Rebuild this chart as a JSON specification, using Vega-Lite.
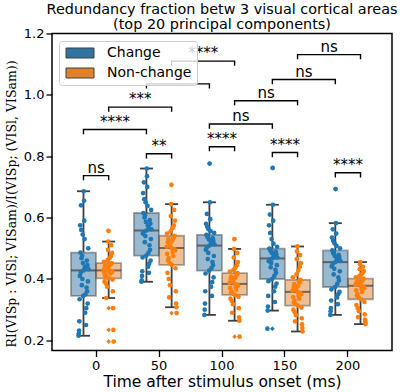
{
"$schema": "https://vega.github.io/schema/vega-lite/v6.json",
"autosize": {"type": "none"},
"padding": {"left": 52, "top": 33.5, "right": 15, "bottom": 41.5},
"width": 340,
"height": 317,
"title": {"text": ["Redundancy fraction betw 3 visual cortical areas", "(top 20 principal components)"], "font": "DejaVu Sans", "fontSize": 14.4, "fontWeight": "normal", "color": "black", "anchor": "middle", "offset": -4.5, "lineHeight": 14.5},
"config": {
  "view": {"stroke": "black", "strokeWidth": 1.5},
  "font": "DejaVu Sans",
  "axis": {"labelFont": "DejaVu Sans", "labelFontSize": 13, "labelColor": "black", "tickColor": "black", "tickSize": 6, "tickWidth": 1.3, "domain": false, "grid": false, "titleColor": "black", "titleFontWeight": "normal"}
},
"datasets": {
"pts": [
{"t":0,"g":"Change","v":0.215},{"t":0,"g":"Change","v":0.222},{"t":0,"g":"Change","v":0.232},{"t":0,"g":"Change","v":0.262},{"t":0,"g":"Change","v":0.334},{"t":0,"g":"Change","v":0.41},{"t":0,"g":"Change","v":0.575},{"t":0,"g":"Change","v":0.486},{"t":0,"g":"Change","v":0.42},{"t":0,"g":"Change","v":0.64},{"t":0,"g":"Change","v":0.56},{"t":0,"g":"Change","v":0.468},{"t":0,"g":"Change","v":0.38},{"t":0,"g":"Change","v":0.476},{"t":0,"g":"Change","v":0.40},{"t":0,"g":"Change","v":0.545},{"t":0,"g":"Change","v":0.452},{"t":0,"g":"Change","v":0.345},{"t":0,"g":"Change","v":0.428},{"t":0,"g":"Change","v":0.686},{"t":0,"g":"Change","v":0.655},{"t":0,"g":"Change","v":0.59},{"t":0,"g":"Change","v":0.53},{"t":0,"g":"Change","v":0.44},{"t":0,"g":"Change","v":0.29},{"t":0,"g":"Change","v":0.35},{"t":0,"g":"Change","v":0.436},{"t":0,"g":"Change","v":0.25},{"t":0,"g":"Change","v":0.305},{"t":0,"g":"Change","v":0.372},{"t":0,"g":"Change","v":0.46},{"t":0,"g":"Change","v":0.36},{"t":0,"g":"Change","v":0.445},{"t":0,"g":"Change","v":0.32},{"t":0,"g":"Change","v":0.392},{"t":0,"g":"Change","v":0.50},{"t":0,"g":"Change","v":0.432},
{"t":0,"g":"Non-change","v":0.43},{"t":0,"g":"Non-change","v":0.456},{"t":0,"g":"Non-change","v":0.42},{"t":0,"g":"Non-change","v":0.392},{"t":0,"g":"Non-change","v":0.44},{"t":0,"g":"Non-change","v":0.41},{"t":0,"g":"Non-change","v":0.446},{"t":0,"g":"Non-change","v":0.414},{"t":0,"g":"Non-change","v":0.385},{"t":0,"g":"Non-change","v":0.338},{"t":0,"g":"Non-change","v":0.433},{"t":0,"g":"Non-change","v":0.405},{"t":0,"g":"Non-change","v":0.375},{"t":0,"g":"Non-change","v":0.436},{"t":0,"g":"Non-change","v":0.462},{"t":0,"g":"Non-change","v":0.495},{"t":0,"g":"Non-change","v":0.522},{"t":0,"g":"Non-change","v":0.557},{"t":0,"g":"Non-change","v":0.428},{"t":0,"g":"Non-change","v":0.402},{"t":0,"g":"Non-change","v":0.443},{"t":0,"g":"Non-change","v":0.468},{"t":0,"g":"Non-change","v":0.422},{"t":0,"g":"Non-change","v":0.45},{"t":0,"g":"Non-change","v":0.418},{"t":0,"g":"Non-change","v":0.448},{"t":0,"g":"Non-change","v":0.475},{"t":0,"g":"Non-change","v":0.51},{"t":0,"g":"Non-change","v":0.426},{"t":0,"g":"Non-change","v":0.452},{"t":0,"g":"Non-change","v":0.485},{"t":0,"g":"Non-change","v":0.424},{"t":0,"g":"Non-change","v":0.398},{"t":0,"g":"Non-change","v":0.36},{"t":0,"g":"Non-change","v":0.305},{"t":0,"g":"Non-change","v":0.234},{"t":0,"g":"Non-change","v":0.196},
{"t":50,"g":"Change","v":0.391},{"t":50,"g":"Change","v":0.396},{"t":50,"g":"Change","v":0.41},{"t":50,"g":"Change","v":0.425},{"t":50,"g":"Change","v":0.47},{"t":50,"g":"Change","v":0.548},{"t":50,"g":"Change","v":0.68},{"t":50,"g":"Change","v":0.615},{"t":50,"g":"Change","v":0.553},{"t":50,"g":"Change","v":0.715},{"t":50,"g":"Change","v":0.66},{"t":50,"g":"Change","v":0.60},{"t":50,"g":"Change","v":0.52},{"t":50,"g":"Change","v":0.608},{"t":50,"g":"Change","v":0.54},{"t":50,"g":"Change","v":0.65},{"t":50,"g":"Change","v":0.586},{"t":50,"g":"Change","v":0.476},{"t":50,"g":"Change","v":0.558},{"t":50,"g":"Change","v":0.76},{"t":50,"g":"Change","v":0.735},{"t":50,"g":"Change","v":0.70},{"t":50,"g":"Change","v":0.638},{"t":50,"g":"Change","v":0.575},{"t":50,"g":"Change","v":0.44},{"t":50,"g":"Change","v":0.485},{"t":50,"g":"Change","v":0.568},{"t":50,"g":"Change","v":0.42},{"t":50,"g":"Change","v":0.45},{"t":50,"g":"Change","v":0.51},{"t":50,"g":"Change","v":0.592},{"t":50,"g":"Change","v":0.495},{"t":50,"g":"Change","v":0.58},{"t":50,"g":"Change","v":0.46},{"t":50,"g":"Change","v":0.53},{"t":50,"g":"Change","v":0.625},{"t":50,"g":"Change","v":0.562},
{"t":50,"g":"Non-change","v":0.505},{"t":50,"g":"Non-change","v":0.548},{"t":50,"g":"Non-change","v":0.482},{"t":50,"g":"Non-change","v":0.42},{"t":50,"g":"Non-change","v":0.52},{"t":50,"g":"Non-change","v":0.46},{"t":50,"g":"Non-change","v":0.53},{"t":50,"g":"Non-change","v":0.468},{"t":50,"g":"Non-change","v":0.40},{"t":50,"g":"Non-change","v":0.34},{"t":50,"g":"Non-change","v":0.51},{"t":50,"g":"Non-change","v":0.452},{"t":50,"g":"Non-change","v":0.38},{"t":50,"g":"Non-change","v":0.515},{"t":50,"g":"Non-change","v":0.555},{"t":50,"g":"Non-change","v":0.605},{"t":50,"g":"Non-change","v":0.644},{"t":50,"g":"Non-change","v":0.707},{"t":50,"g":"Non-change","v":0.501},{"t":50,"g":"Non-change","v":0.446},{"t":50,"g":"Non-change","v":0.525},{"t":50,"g":"Non-change","v":0.565},{"t":50,"g":"Non-change","v":0.488},{"t":50,"g":"Non-change","v":0.538},{"t":50,"g":"Non-change","v":0.475},{"t":50,"g":"Non-change","v":0.534},{"t":50,"g":"Non-change","v":0.575},{"t":50,"g":"Non-change","v":0.625},{"t":50,"g":"Non-change","v":0.497},{"t":50,"g":"Non-change","v":0.541},{"t":50,"g":"Non-change","v":0.59},{"t":50,"g":"Non-change","v":0.493},{"t":50,"g":"Non-change","v":0.435},{"t":50,"g":"Non-change","v":0.36},{"t":50,"g":"Non-change","v":0.32},{"t":50,"g":"Non-change","v":0.308},{"t":50,"g":"Non-change","v":0.289},
{"t":100,"g":"Change","v":0.283},{"t":100,"g":"Change","v":0.30},{"t":100,"g":"Change","v":0.32},{"t":100,"g":"Change","v":0.36},{"t":100,"g":"Change","v":0.418},{"t":100,"g":"Change","v":0.495},{"t":100,"g":"Change","v":0.58},{"t":100,"g":"Change","v":0.544},{"t":100,"g":"Change","v":0.502},{"t":100,"g":"Change","v":0.612},{"t":100,"g":"Change","v":0.57},{"t":100,"g":"Change","v":0.537},{"t":100,"g":"Change","v":0.465},{"t":100,"g":"Change","v":0.54},{"t":100,"g":"Change","v":0.485},{"t":100,"g":"Change","v":0.562},{"t":100,"g":"Change","v":0.529},{"t":100,"g":"Change","v":0.427},{"t":100,"g":"Change","v":0.509},{"t":100,"g":"Change","v":0.776},{"t":100,"g":"Change","v":0.65},{"t":100,"g":"Change","v":0.595},{"t":100,"g":"Change","v":0.556},{"t":100,"g":"Change","v":0.521},{"t":100,"g":"Change","v":0.375},{"t":100,"g":"Change","v":0.435},{"t":100,"g":"Change","v":0.517},{"t":100,"g":"Change","v":0.345},{"t":100,"g":"Change","v":0.39},{"t":100,"g":"Change","v":0.455},{"t":100,"g":"Change","v":0.533},{"t":100,"g":"Change","v":0.445},{"t":100,"g":"Change","v":0.525},{"t":100,"g":"Change","v":0.405},{"t":100,"g":"Change","v":0.475},{"t":100,"g":"Change","v":0.55},{"t":100,"g":"Change","v":0.513},
{"t":100,"g":"Non-change","v":0.388},{"t":100,"g":"Non-change","v":0.424},{"t":100,"g":"Non-change","v":0.37},{"t":100,"g":"Non-change","v":0.336},{"t":100,"g":"Non-change","v":0.40},{"t":100,"g":"Non-change","v":0.356},{"t":100,"g":"Non-change","v":0.408},{"t":100,"g":"Non-change","v":0.36},{"t":100,"g":"Non-change","v":0.328},{"t":100,"g":"Non-change","v":0.29},{"t":100,"g":"Non-change","v":0.392},{"t":100,"g":"Non-change","v":0.352},{"t":100,"g":"Non-change","v":0.318},{"t":100,"g":"Non-change","v":0.396},{"t":100,"g":"Non-change","v":0.43},{"t":100,"g":"Non-change","v":0.47},{"t":100,"g":"Non-change","v":0.498},{"t":100,"g":"Non-change","v":0.53},{"t":100,"g":"Non-change","v":0.384},{"t":100,"g":"Non-change","v":0.348},{"t":100,"g":"Non-change","v":0.404},{"t":100,"g":"Non-change","v":0.437},{"t":100,"g":"Non-change","v":0.374},{"t":100,"g":"Non-change","v":0.416},{"t":100,"g":"Non-change","v":0.365},{"t":100,"g":"Non-change","v":0.412},{"t":100,"g":"Non-change","v":0.445},{"t":100,"g":"Non-change","v":0.485},{"t":100,"g":"Non-change","v":0.381},{"t":100,"g":"Non-change","v":0.419},{"t":100,"g":"Non-change","v":0.455},{"t":100,"g":"Non-change","v":0.378},{"t":100,"g":"Non-change","v":0.342},{"t":100,"g":"Non-change","v":0.305},{"t":100,"g":"Non-change","v":0.275},{"t":100,"g":"Non-change","v":0.264},{"t":100,"g":"Non-change","v":0.212},
{"t":150,"g":"Change","v":0.238},{"t":150,"g":"Change","v":0.297},{"t":150,"g":"Change","v":0.31},{"t":150,"g":"Change","v":0.345},{"t":150,"g":"Change","v":0.393},{"t":150,"g":"Change","v":0.458},{"t":150,"g":"Change","v":0.575},{"t":150,"g":"Change","v":0.499},{"t":150,"g":"Change","v":0.463},{"t":150,"g":"Change","v":0.61},{"t":150,"g":"Change","v":0.55},{"t":150,"g":"Change","v":0.492},{"t":150,"g":"Change","v":0.438},{"t":150,"g":"Change","v":0.496},{"t":150,"g":"Change","v":0.452},{"t":150,"g":"Change","v":0.53},{"t":150,"g":"Change","v":0.485},{"t":150,"g":"Change","v":0.40},{"t":150,"g":"Change","v":0.467},{"t":150,"g":"Change","v":0.762},{"t":150,"g":"Change","v":0.642},{"t":150,"g":"Change","v":0.59},{"t":150,"g":"Change","v":0.515},{"t":150,"g":"Change","v":0.477},{"t":150,"g":"Change","v":0.36},{"t":150,"g":"Change","v":0.41},{"t":150,"g":"Change","v":0.474},{"t":150,"g":"Change","v":0.325},{"t":150,"g":"Change","v":0.375},{"t":150,"g":"Change","v":0.43},{"t":150,"g":"Change","v":0.489},{"t":150,"g":"Change","v":0.42},{"t":150,"g":"Change","v":0.481},{"t":150,"g":"Change","v":0.385},{"t":150,"g":"Change","v":0.445},{"t":150,"g":"Change","v":0.505},{"t":150,"g":"Change","v":0.47},
{"t":150,"g":"Non-change","v":0.362},{"t":150,"g":"Non-change","v":0.405},{"t":150,"g":"Non-change","v":0.341},{"t":150,"g":"Non-change","v":0.30},{"t":150,"g":"Non-change","v":0.374},{"t":150,"g":"Non-change","v":0.324},{"t":150,"g":"Non-change","v":0.383},{"t":150,"g":"Non-change","v":0.33},{"t":150,"g":"Non-change","v":0.292},{"t":150,"g":"Non-change","v":0.262},{"t":150,"g":"Non-change","v":0.366},{"t":150,"g":"Non-change","v":0.318},{"t":150,"g":"Non-change","v":0.282},{"t":150,"g":"Non-change","v":0.37},{"t":150,"g":"Non-change","v":0.415},{"t":150,"g":"Non-change","v":0.465},{"t":150,"g":"Non-change","v":0.49},{"t":150,"g":"Non-change","v":0.506},{"t":150,"g":"Non-change","v":0.358},{"t":150,"g":"Non-change","v":0.313},{"t":150,"g":"Non-change","v":0.378},{"t":150,"g":"Non-change","v":0.428},{"t":150,"g":"Non-change","v":0.346},{"t":150,"g":"Non-change","v":0.393},{"t":150,"g":"Non-change","v":0.336},{"t":150,"g":"Non-change","v":0.388},{"t":150,"g":"Non-change","v":0.44},{"t":150,"g":"Non-change","v":0.478},{"t":150,"g":"Non-change","v":0.354},{"t":150,"g":"Non-change","v":0.397},{"t":150,"g":"Non-change","v":0.452},{"t":150,"g":"Non-change","v":0.35},{"t":150,"g":"Non-change","v":0.307},{"t":150,"g":"Non-change","v":0.272},{"t":150,"g":"Non-change","v":0.252},{"t":150,"g":"Non-change","v":0.24},{"t":150,"g":"Non-change","v":0.229},
{"t":200,"g":"Change","v":0.283},{"t":200,"g":"Change","v":0.295},{"t":200,"g":"Change","v":0.305},{"t":200,"g":"Change","v":0.33},{"t":200,"g":"Change","v":0.366},{"t":200,"g":"Change","v":0.441},{"t":200,"g":"Change","v":0.535},{"t":200,"g":"Change","v":0.493},{"t":200,"g":"Change","v":0.448},{"t":200,"g":"Change","v":0.562},{"t":200,"g":"Change","v":0.525},{"t":200,"g":"Change","v":0.483},{"t":200,"g":"Change","v":0.415},{"t":200,"g":"Change","v":0.488},{"t":200,"g":"Change","v":0.433},{"t":200,"g":"Change","v":0.516},{"t":200,"g":"Change","v":0.475},{"t":200,"g":"Change","v":0.374},{"t":200,"g":"Change","v":0.455},{"t":200,"g":"Change","v":0.693},{"t":200,"g":"Change","v":0.582},{"t":200,"g":"Change","v":0.548},{"t":200,"g":"Change","v":0.508},{"t":200,"g":"Change","v":0.467},{"t":200,"g":"Change","v":0.34},{"t":200,"g":"Change","v":0.384},{"t":200,"g":"Change","v":0.463},{"t":200,"g":"Change","v":0.318},{"t":200,"g":"Change","v":0.35},{"t":200,"g":"Change","v":0.405},{"t":200,"g":"Change","v":0.479},{"t":200,"g":"Change","v":0.395},{"t":200,"g":"Change","v":0.471},{"t":200,"g":"Change","v":0.358},{"t":200,"g":"Change","v":0.425},{"t":200,"g":"Change","v":0.50},{"t":200,"g":"Change","v":0.459},
{"t":200,"g":"Non-change","v":0.381},{"t":200,"g":"Non-change","v":0.405},{"t":200,"g":"Non-change","v":0.363},{"t":200,"g":"Non-change","v":0.315},{"t":200,"g":"Non-change","v":0.389},{"t":200,"g":"Non-change","v":0.346},{"t":200,"g":"Non-change","v":0.393},{"t":200,"g":"Non-change","v":0.352},{"t":200,"g":"Non-change","v":0.305},{"t":200,"g":"Non-change","v":0.276},{"t":200,"g":"Non-change","v":0.384},{"t":200,"g":"Non-change","v":0.34},{"t":200,"g":"Non-change","v":0.295},{"t":200,"g":"Non-change","v":0.387},{"t":200,"g":"Non-change","v":0.41},{"t":200,"g":"Non-change","v":0.432},{"t":200,"g":"Non-change","v":0.448},{"t":200,"g":"Non-change","v":0.455},{"t":200,"g":"Non-change","v":0.378},{"t":200,"g":"Non-change","v":0.334},{"t":200,"g":"Non-change","v":0.391},{"t":200,"g":"Non-change","v":0.415},{"t":200,"g":"Non-change","v":0.367},{"t":200,"g":"Non-change","v":0.398},{"t":200,"g":"Non-change","v":0.358},{"t":200,"g":"Non-change","v":0.395},{"t":200,"g":"Non-change","v":0.42},{"t":200,"g":"Non-change","v":0.44},{"t":200,"g":"Non-change","v":0.375},{"t":200,"g":"Non-change","v":0.401},{"t":200,"g":"Non-change","v":0.426},{"t":200,"g":"Non-change","v":0.371},{"t":200,"g":"Non-change","v":0.325},{"t":200,"g":"Non-change","v":0.285},{"t":200,"g":"Non-change","v":0.268},{"t":200,"g":"Non-change","v":0.26},{"t":200,"g":"Non-change","v":0.253}
],
"brk": [
{"id":1,"o":1,"t":0,"g":"Change","v":0.872},{"id":1,"o":2,"t":0,"g":"Change","v":0.887},{"id":1,"o":3,"t":50,"g":"Change","v":0.887},{"id":1,"o":4,"t":50,"g":"Change","v":0.872},
{"id":2,"o":1,"t":0,"g":"Non-change","v":0.945},{"id":2,"o":2,"t":0,"g":"Non-change","v":0.960},{"id":2,"o":3,"t":50,"g":"Non-change","v":0.960},{"id":2,"o":4,"t":50,"g":"Non-change","v":0.945},
{"id":3,"o":1,"t":50,"g":"Change","v":1.021},{"id":3,"o":2,"t":50,"g":"Change","v":1.036},{"id":3,"o":3,"t":100,"g":"Change","v":1.036},{"id":3,"o":4,"t":100,"g":"Change","v":1.021},
{"id":4,"o":1,"t":50,"g":"Non-change","v":1.095},{"id":4,"o":2,"t":50,"g":"Non-change","v":1.110},{"id":4,"o":3,"t":100,"g":"Non-change","v":1.110},{"id":4,"o":4,"t":100,"g":"Non-change","v":1.095},
{"id":5,"o":1,"t":100,"g":"Change","v":0.890},{"id":5,"o":2,"t":100,"g":"Change","v":0.905},{"id":5,"o":3,"t":150,"g":"Change","v":0.905},{"id":5,"o":4,"t":150,"g":"Change","v":0.890},
{"id":6,"o":1,"t":100,"g":"Non-change","v":0.966},{"id":6,"o":2,"t":100,"g":"Non-change","v":0.981},{"id":6,"o":3,"t":150,"g":"Non-change","v":0.981},{"id":6,"o":4,"t":150,"g":"Non-change","v":0.966},
{"id":7,"o":1,"t":150,"g":"Change","v":1.035},{"id":7,"o":2,"t":150,"g":"Change","v":1.050},{"id":7,"o":3,"t":200,"g":"Change","v":1.050},{"id":7,"o":4,"t":200,"g":"Change","v":1.035},
{"id":8,"o":1,"t":150,"g":"Non-change","v":1.116},{"id":8,"o":2,"t":150,"g":"Non-change","v":1.131},{"id":8,"o":3,"t":200,"g":"Non-change","v":1.131},{"id":8,"o":4,"t":200,"g":"Non-change","v":1.116},
{"id":9,"o":1,"t":0,"g":"Change","v":0.722},{"id":9,"o":2,"t":0,"g":"Change","v":0.737},{"id":9,"o":3,"t":0,"g":"Non-change","v":0.737},{"id":9,"o":4,"t":0,"g":"Non-change","v":0.722},
{"id":10,"o":1,"t":50,"g":"Change","v":0.793},{"id":10,"o":2,"t":50,"g":"Change","v":0.808},{"id":10,"o":3,"t":50,"g":"Non-change","v":0.808},{"id":10,"o":4,"t":50,"g":"Non-change","v":0.793},
{"id":11,"o":1,"t":100,"g":"Change","v":0.816},{"id":11,"o":2,"t":100,"g":"Change","v":0.831},{"id":11,"o":3,"t":100,"g":"Non-change","v":0.831},{"id":11,"o":4,"t":100,"g":"Non-change","v":0.816},
{"id":12,"o":1,"t":150,"g":"Change","v":0.797},{"id":12,"o":2,"t":150,"g":"Change","v":0.812},{"id":12,"o":3,"t":150,"g":"Non-change","v":0.812},{"id":12,"o":4,"t":150,"g":"Non-change","v":0.797},
{"id":13,"o":1,"t":200,"g":"Change","v":0.731},{"id":13,"o":2,"t":200,"g":"Change","v":0.746},{"id":13,"o":3,"t":200,"g":"Non-change","v":0.746},{"id":13,"o":4,"t":200,"g":"Non-change","v":0.731}
],
"lab": [
{"k":"across","t":0,"g":"Change","v":0.887,"lab":"****"},
{"k":"across","t":0,"g":"Non-change","v":0.960,"lab":"***"},
{"k":"across","t":50,"g":"Non-change","v":1.110,"lab":"****"},
{"k":"across","t":100,"g":"Change","v":0.905,"lab":"ns"},
{"k":"across","t":100,"g":"Non-change","v":0.981,"lab":"ns"},
{"k":"across","t":150,"g":"Change","v":1.050,"lab":"ns"},
{"k":"across","t":150,"g":"Non-change","v":1.131,"lab":"ns"},
{"k":"within","t":0,"g":"Change","v":0.737,"lab":"ns"},
{"k":"within","t":50,"g":"Change","v":0.808,"lab":"**"},
{"k":"within","t":100,"g":"Change","v":0.831,"lab":"****"},
{"k":"within","t":150,"g":"Change","v":0.812,"lab":"****"},
{"k":"within","t":200,"g":"Change","v":0.746,"lab":"****"}
]
},
"encoding": {
  "x": {"field": "t", "type": "ordinal", "scale": {"domain": [0, 50, 100, 150, 200], "paddingInner": 0, "paddingOuter": 0.2},
        "axis": {"title": "Time after stimulus onset (ms)", "labelAngle": 0, "titleFontSize": 15.5, "labelPadding": 3, "titlePadding": 2}},
  "y": {"field": "v", "type": "quantitative", "scale": {"domain": [0.167, 1.2], "nice": false, "zero": false},
        "axis": {"title": "RI(VISp : VISl; VISam)/I(VISp; (VISl, VISam))", "titleFont": "DejaVu Serif", "titleFontSize": 12.5, "titleY": 170, "values": [0.2, 0.4, 0.6, 0.8, 1.0, 1.2], "format": ".1f", "labelPadding": 2, "titlePadding": 5}}
},
"resolve": {"scale": {"xOffset": "independent"}},
"layer": [
  {
    "data": {"name": "pts"},
    "mark": {"type": "boxplot", "extent": 1.5, "size": 25,
      "box": {"fillOpacity": 0.5, "stroke": "#3f3f3f", "strokeOpacity": 0.45, "strokeWidth": 1.8},
      "median": {"color": "#3f3f3f", "thickness": 2},
      "rule": {"color": "#3f3f3f", "strokeWidth": 1.8},
      "ticks": {"color": "#3f3f3f", "size": 13, "thickness": 1.8},
      "outliers": {"shape": "diamond", "filled": true, "color": "#3f3f3f", "size": 22, "opacity": 1}},
    "encoding": {
      "xOffset": {"field": "g", "type": "nominal", "scale": {"type": "band", "domain": ["Change", "Non-change"], "paddingInner": 0, "paddingOuter": 0.25}},
      "color": {"field": "g", "type": "nominal", "scale": {"domain": ["Change", "Non-change"], "range": ["#3274a1", "#e1812c"]},
        "legend": {"orient": "none", "legendX": 7, "legendY": 7.5, "title": null, "fillColor": "rgba(255,255,255,0.8)", "strokeColor": "#cccccc", "cornerRadius": 3, "padding": 5,
          "symbolType": "M-1,-1H4.6V1H-1Z", "symbolSize": 100, "symbolOpacity": 1, "symbolStrokeColor": "#3f3f3f", "symbolStrokeWidth": 1,
          "labelFont": "DejaVu Sans", "labelFontSize": 14, "labelColor": "black", "labelOffset": 29, "rowPadding": 6}}
    }
  },
  {
    "data": {"name": "pts"},
    "transform": [{"filter": "datum.g == 'Change'"}, {"window": [{"op": "row_number", "as": "r"}], "groupby": ["t"]}],
    "mark": {"type": "circle", "size": 22, "opacity": 1, "color": "#1f77b4"},
    "encoding": {"xOffset": {"field": "r", "type": "quantitative", "scale": {"domain": [1, 37], "range": [13.9, 23.9], "zero": false, "nice": false}}}
  },
  {
    "data": {"name": "pts"},
    "transform": [{"filter": "datum.g == 'Non-change'"}, {"window": [{"op": "row_number", "as": "r"}], "groupby": ["t"]}],
    "mark": {"type": "circle", "size": 22, "opacity": 1, "color": "#ff7f0e"},
    "encoding": {"xOffset": {"field": "r", "type": "quantitative", "scale": {"domain": [1, 37], "range": [39.1, 49.1], "zero": false, "nice": false}}}
  },
  {
    "data": {"name": "brk"},
    "mark": {"type": "line", "color": "black", "strokeWidth": 1.4},
    "encoding": {
      "xOffset": {"field": "g", "type": "nominal", "scale": {"type": "band", "domain": ["Change", "Non-change"], "paddingInner": 0, "paddingOuter": 0.25}},
      "detail": {"field": "id", "type": "nominal"},
      "order": {"field": "o", "type": "quantitative"}
    }
  },
  {
    "data": {"name": "lab"},
    "transform": [{"filter": "datum.k == 'across'"}],
    "mark": {"type": "text", "font": "DejaVu Sans", "fontSize": 15, "color": "black", "align": "center", "baseline": "alphabetic", "dx": 31.5, "dy": -3},
    "encoding": {
      "xOffset": {"field": "g", "type": "nominal", "scale": {"type": "band", "domain": ["Change", "Non-change"], "paddingInner": 0, "paddingOuter": 0.25}},
      "text": {"field": "lab"}
    }
  },
  {
    "data": {"name": "lab"},
    "transform": [{"filter": "datum.k == 'within'"}],
    "mark": {"type": "text", "font": "DejaVu Sans", "fontSize": 15, "color": "black", "align": "center", "baseline": "alphabetic", "dy": -3},
    "encoding": {"text": {"field": "lab"}}
  }
]
}
